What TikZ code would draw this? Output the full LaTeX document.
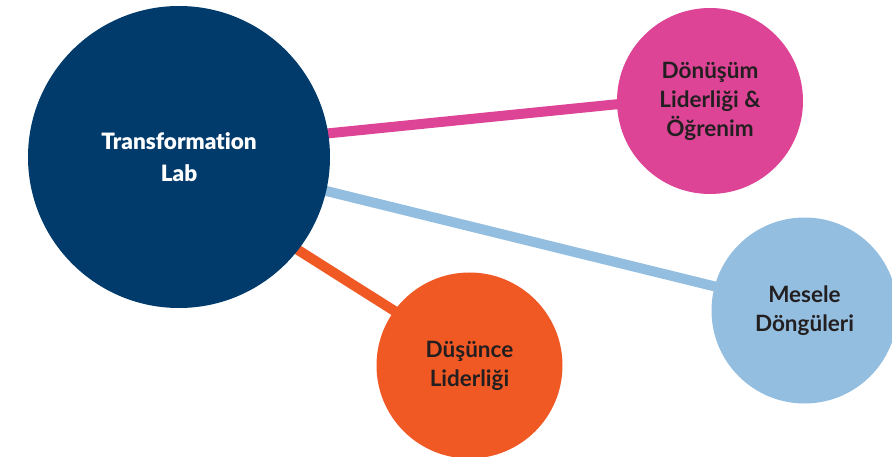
\documentclass[tikz,border=0pt]{standalone}
\usepackage{fontspec}
\setmainfont{Lato}
\newfontfamily\heavyfont[Ligatures=NoCommon]{Lato Black}
\newfontfamily\semifont[Ligatures=NoCommon]{Lato Bold}
\usetikzlibrary{backgrounds}
\definecolor{navy}{RGB}{0,59,107}
\definecolor{pinkc}{RGB}{222,68,150}
\definecolor{bluec}{RGB}{147,190,224}
\definecolor{orangec}{RGB}{241,89,36}
\definecolor{textdark}{RGB}{35,31,32}
\begin{document}
\begin{tikzpicture}[x=1pt,y=-1pt,
  bubble/.style={circle, inner sep=0pt, draw=none, align=center,
    font=\semifont\fontsize{22.5}{29}\selectfont, text=textdark, minimum size=186pt},
  link/.style={line width=10pt, shorten <=-8pt, shorten >=-8pt}]
\useasboundingbox (0,0) rectangle (892,457);
\node[bubble, fill=navy, minimum size=302pt, text=white,
  font=\heavyfont\fontsize{22.5}{32}\selectfont] (lab) at (179,157) {Transformation\\Lab};
\node[bubble, fill=pinkc] (pink) at (710,101) {Dönüşüm\\Liderliği \&\\Öğrenim};
\node[bubble, fill=bluec] (blue) at (804.5,310.5) {Mesele\\Döngüleri};
\node[bubble, fill=orangec] (orange) at (469.5,365.5) {Düşünce\\Liderliği};
\begin{scope}[on background layer]
\draw[link, pinkc] (lab.9.8) -- (pink.182.5);
\draw[link, bluec] (lab.-13.9) -- (blue.165.4);
\draw[link, orangec] (lab.-38) -- (orange.144.3);
\end{scope}
\end{tikzpicture}
\end{document}
